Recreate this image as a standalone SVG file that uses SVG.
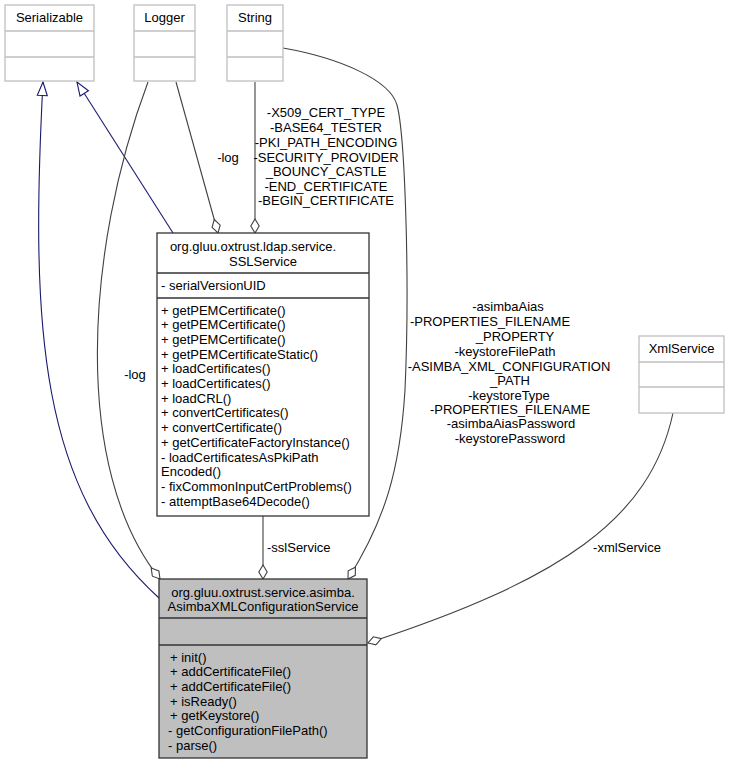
<svg xmlns="http://www.w3.org/2000/svg" width="730" height="764" viewBox="0 0 730 764">
<style>
text{font-family:"Liberation Sans",Arial,sans-serif;font-size:13px;fill:#000}
.ext{fill:#fff;stroke:#bfbfbf;stroke-width:1.3}
.main{fill:#fff;stroke:#333;stroke-width:1.3}
.cur{fill:#bfbfbf;stroke:#333;stroke-width:1.3}
.edge{fill:none;stroke:#404040;stroke-width:1.1;marker-end:url(#dia)}
.inh{fill:none;stroke:#191970;stroke-width:1.1;marker-end:url(#tri)}
.c{text-anchor:middle}
</style>
<defs>
<marker id="dia" markerUnits="userSpaceOnUse" viewBox="0 0 16 10" markerWidth="16" markerHeight="10" refX="15" refY="5" orient="auto">
<path d="M1,5 L8,0.8 L15,5 L8,9.2 Z" fill="#fff" stroke="#404040" stroke-width="1.1"/>
</marker>
<marker id="tri" markerUnits="userSpaceOnUse" viewBox="0 0 16 12" markerWidth="16" markerHeight="12" refX="15" refY="6" orient="auto">
<path d="M1.5,1 L15,6 L1.5,11 Z" fill="#fff" stroke="#191970" stroke-width="1.1"/>
</marker>
</defs>

<g id="connectors">
<path class="inh" d="M159,598 C40,490 30,330 43,82"/>
<path class="inh" d="M173,233 L77,82"/>
<path class="edge" d="M176,82 L218,233"/>
<path class="edge" d="M255,82 L255,233"/>
<path class="edge" d="M148,82 C85,250 72,470 160,579"/>
<path class="edge" d="M283,48 C340,58 390,80 397,105 C405,135 410,280 405,390 C400,470 385,520 348,579"/>
<path class="edge" d="M263,516 L263,579"/>
<path class="edge" d="M673,413 C650,520 560,580 368,643"/>
<text class="c" x="228" y="161.5">-log</text>
<text class="c" x="135" y="378.5">-log</text>
<g class="c">
<text class="c" x="326" y="116.5">-X509_CERT_TYPE</text>
<text class="c" x="326" y="131.5">-BASE64_TESTER</text>
<text class="c" x="326" y="146.5">-PKI_PATH_ENCODING</text>
<text class="c" x="326" y="161.5">-SECURITY_PROVIDER</text>
<text class="c" x="326" y="176">_BOUNCY_CASTLE</text>
<text class="c" x="326" y="190.5">-END_CERTIFICATE</text>
<text class="c" x="326" y="204.5">-BEGIN_CERTIFICATE</text>
</g>
<text class="c" x="508" y="311">-asimbaAias</text>
<text class="c" x="490" y="326">-PROPERTIES_FILENAME</text>
<text class="c" x="515" y="341">_PROPERTY</text>
<text class="c" x="505" y="356">-keystoreFilePath</text>
<text class="c" x="509" y="370.5">-ASIMBA_XML_CONFIGURATION</text>
<text class="c" x="510" y="385">_PATH</text>
<text class="c" x="509" y="400">-keystoreType</text>
<text class="c" x="510" y="414">-PROPERTIES_FILENAME</text>
<text class="c" x="511" y="428">-asimbaAiasPassword</text>
<text class="c" x="510" y="443">-keystorePassword</text>
<text x="267" y="551.5">-sslService</text>
<text class="c" x="627" y="551.5">-xmlService</text>
</g>

<g id="Serializable">
<rect class="ext" x="5" y="5" width="89" height="76"/>
<line class="ext" x1="5" y1="31" x2="94" y2="31"/>
<line class="ext" x1="5" y1="57" x2="94" y2="57"/>
<text class="c" x="49.5" y="21.5">Serializable</text>
</g>

<g id="Logger">
<rect class="ext" x="134" y="5" width="61" height="76"/>
<line class="ext" x1="134" y1="31" x2="195" y2="31"/>
<line class="ext" x1="134" y1="57" x2="195" y2="57"/>
<text class="c" x="164.5" y="21.5">Logger</text>
</g>

<g id="String">
<rect class="ext" x="227" y="5" width="56" height="76"/>
<line class="ext" x1="227" y1="31" x2="283" y2="31"/>
<line class="ext" x1="227" y1="57" x2="283" y2="57"/>
<text class="c" x="255" y="21.5">String</text>
</g>

<g id="XmlService">
<rect class="ext" x="639" y="336" width="85" height="77"/>
<line class="ext" x1="639" y1="362" x2="724" y2="362"/>
<line class="ext" x1="639" y1="387" x2="724" y2="387"/>
<text class="c" x="681.5" y="352.5">XmlService</text>
</g>

<g id="SSLService">
<rect class="main" x="157" y="233" width="212" height="283"/>
<line class="main" x1="157" y1="273" x2="369" y2="273"/>
<line class="main" x1="157" y1="298" x2="369" y2="298"/>
<text class="c" x="253" y="250.5">org.gluu.oxtrust.ldap.service.</text>
<text class="c" x="263" y="265.5">SSLService</text>
<text x="161" y="289.5">- serialVersionUID</text>
<text x="161" y="314.5">+ getPEMCertificate()</text>
<text x="161" y="329.2">+ getPEMCertificate()</text>
<text x="161" y="343.9">+ getPEMCertificate()</text>
<text x="161" y="358.6">+ getPEMCertificateStatic()</text>
<text x="161" y="373.3">+ loadCertificates()</text>
<text x="161" y="388">+ loadCertificates()</text>
<text x="161" y="402.7">+ loadCRL()</text>
<text x="161" y="417.4">+ convertCertificates()</text>
<text x="161" y="432.1">+ convertCertificate()</text>
<text x="161" y="446.8">+ getCertificateFactoryInstance()</text>
<text x="161" y="461.5">- loadCertificatesAsPkiPath</text>
<text x="161" y="476.2">Encoded()</text>
<text x="161" y="490.9">- fixCommonInputCertProblems()</text>
<text x="161" y="505.6">- attemptBase64Decode()</text>
</g>

<g id="AsimbaXMLConfigurationService">
<rect class="cur" x="159" y="579" width="208" height="179"/>
<line class="cur" x1="159" y1="618" x2="367" y2="618"/>
<line class="cur" x1="159" y1="645" x2="367" y2="645"/>
<text class="c" x="263" y="596.5">org.gluu.oxtrust.service.asimba.</text>
<text class="c" x="263" y="611">AsimbaXMLConfigurationService</text>
<text x="170" y="661.5">+ init()</text>
<text x="170" y="676.2">+ addCertificateFile()</text>
<text x="170" y="690.9">+ addCertificateFile()</text>
<text x="170" y="705.6">+ isReady()</text>
<text x="170" y="720.3">+ getKeystore()</text>
<text x="168" y="735">- getConfigurationFilePath()</text>
<text x="168" y="749.7">- parse()</text>
</g>
</svg>
